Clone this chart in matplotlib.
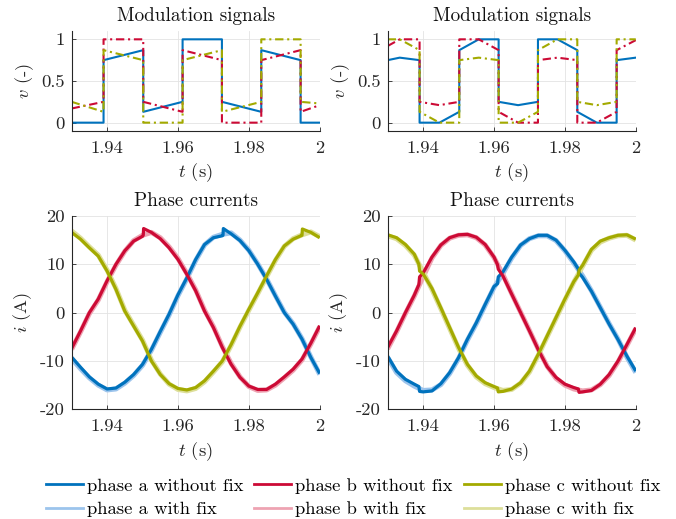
import numpy as np
import matplotlib
matplotlib.use("Agg")
import matplotlib.pyplot as plt
from matplotlib.lines import Line2D

plt.rcParams['font.family'] = 'serif'
plt.rcParams['font.serif'] = ['cmr10']
plt.rcParams['mathtext.fontset'] = 'cm'
plt.rcParams['axes.formatter.use_mathtext'] = True
plt.rcParams['axes.unicode_minus'] = False

# ---------------- colours ----------------
col_a, col_b, col_c = '#0072BD', '#CC0A35', '#A3AA00'
col_a_l, col_b_l, col_c_l = '#9CC4EC', '#EEA3B2', '#DDDF9A'

# ---------------- modulation signals (left) ----------------
mod_t_left = [1.93, 1.9390, 1.9390, 1.9502, 1.9502, 1.9613, 1.9613,
              1.9724, 1.9724, 1.9835, 1.9835, 1.9946, 1.9946, 2.0]
mod_a_left = [0, 0, 0.75, 0.87, 0.13, 0.25, 1.0, 1.0, 0.25, 0.13, 0.87, 0.75, 0, 0]
mod_b_left = [0.17, 0.25, 1.0, 1.0, 0.25, 0.13, 0.87, 0.75, 0, 0, 0.75, 0.87, 0.13, 0.21]
mod_c_left = [0.25, 0.13, 0.87, 0.75, 0, 0, 0.75, 0.87, 0.13, 0.25, 1.0, 1.0, 0.25, 0.23]

# ---------------- modulation signals (right) ----------------
mod_t_right = [1.93, 1.9334, 1.9390, 1.9390, 1.9446, 1.9502, 1.9502, 1.9557, 1.9613, 1.9613,
               1.9668, 1.9724, 1.9724, 1.9779, 1.9835, 1.9835, 1.9890, 1.9946, 1.9946, 2.0]
mod_a_right = [0.75, 0.78, 0.75, 0, 0, 0.13, 0.87, 1.0, 1.0, 0.25,
               0.21, 0.25, 1.0, 1.0, 0.87, 0.13, 0, 0, 0.75, 0.78]
mod_b_right = [0.92, 1.0, 1.0, 0.25, 0.21, 0.25, 1.0, 1.0, 0.87, 0.13,
               0, 0, 0.75, 0.78, 0.75, 0, 0, 0.13, 0.87, 0.99]
mod_c_right = [1.0, 1.0, 0.87, 0.13, 0, 0, 0.75, 0.78, 0.75, 0,
               0, 0.13, 0.87, 1.0, 1.0, 0.25, 0.21, 0.25, 1.0, 1.0]

# ---------------- phase currents: sample times ----------------
t_grid = [1.93, 1.9325, 1.935, 1.9375, 1.94, 1.9425, 1.945, 1.9475, 1.95, 1.9525,
          1.955, 1.9575, 1.96, 1.9625, 1.965, 1.9675, 1.97, 1.9725, 1.975, 1.9775,
          1.98, 1.9825, 1.985, 1.9875, 1.99, 1.9925, 1.995, 1.9975, 2.0]

# left: without fix (with step at the current peak)
ia_left_t = [1.93, 1.9325, 1.935, 1.9375, 1.94, 1.9425, 1.945, 1.9475, 1.95, 1.9525,
             1.955, 1.9575, 1.96, 1.9625, 1.965, 1.9675, 1.97, 1.9725, 1.9727, 1.9728, 1.975, 1.9775,
             1.98, 1.9825, 1.985, 1.9875, 1.99, 1.9925, 1.995, 1.9975, 2.0]
ia_left = [-9.2, -11.3, -13.3, -14.8, -15.8, -15.6, -14.4, -12.8, -10.7, -7.6,
           -3.9, -0.3, 3.7, 7.2, 11.0, 14.1, 15.5, 15.9, 16.0, 17.4, 16.3, 14.9,
           12.8, 10.0, 6.9, 3.4, 0.0, -2.4, -5.5, -9.3, -12.6]
ib_left_t = [1.93, 1.9325, 1.935, 1.9375, 1.94, 1.9425, 1.945, 1.9475, 1.95, 1.9502, 1.9503, 1.9525,
             1.955, 1.9575, 1.96, 1.9625, 1.965, 1.9675, 1.97, 1.9725, 1.975, 1.9775,
             1.98, 1.9825, 1.985, 1.9875, 1.99, 1.9925, 1.995, 1.9975, 2.0]
ib_left = [-7.4, -3.8, 0.0, 2.8, 6.6, 10.0, 12.8, 14.8, 15.8, 16.0, 17.4, 16.6,
           15.3, 13.4, 11.0, 7.9, 4.5, 0.3, -3.1, -7.2, -10.7, -13.4,
           -15.2, -15.9, -15.9, -14.8, -13.3, -11.7, -9.6, -6.3, -2.7]
ic_left_t = [1.93, 1.9325, 1.935, 1.9375, 1.94, 1.9425, 1.945, 1.9475, 1.95, 1.9525,
             1.955, 1.9575, 1.96, 1.9625, 1.965, 1.9675, 1.97, 1.9725, 1.975, 1.9775,
             1.98, 1.9825, 1.985, 1.9875, 1.99, 1.9925, 1.995, 1.9950, 1.9951, 1.9975, 2.0]
ic_left = [16.6, 15.2, 13.4, 11.7, 8.6, 4.8, 0.3, -2.8, -5.9, -10.0,
           -12.8, -14.7, -15.7, -16.0, -15.5, -14.1, -12.1, -10.0, -6.6, -2.8,
           0.7, 4.1, 7.6, 11.0, 13.8, 15.2, 16.0, 16.1, 17.3, 16.6, 15.5]

# left: with fix (sampled on t_grid)
ia_left_fix = [-9.5, -11.6, -13.5, -15.0, -16.0, -15.8, -14.6, -13.0, -10.9, -7.8,
               -4.1, -0.5, 3.5, 7.0, 10.8, 14.0, 15.6, 16.2, 16.5, 15.0,
               12.9, 10.1, 7.0, 3.5, 0.1, -2.3, -5.4, -9.2, -12.8]
ib_left_fix = [-7.6, -4.0, -0.2, 2.6, 6.4, 9.8, 12.7, 14.9, 16.0, 16.6,
               15.5, 13.6, 11.2, 8.1, 4.7, 0.5, -2.9, -7.0, -10.5, -13.3,
               -15.3, -16.1, -16.0, -15.0, -13.5, -11.9, -9.8, -6.5, -2.9]
ic_left_fix = [16.9, 15.4, 13.6, 11.9, 8.8, 5.0, 0.5, -2.6, -5.7, -9.8,
               -12.7, -14.8, -15.9, -16.2, -15.7, -14.3, -12.3, -10.2, -6.8, -3.0,
               0.5, 3.9, 7.4, 10.8, 13.7, 15.3, 16.1, 16.7, 15.7]

# right: without fix (small steps at the sector changes)
ia_right_t = [1.93, 1.9325, 1.935, 1.9375, 1.9388, 1.9390, 1.94, 1.9425, 1.945, 1.9475, 1.95, 1.9525,
              1.955, 1.9575, 1.96, 1.9610, 1.9612, 1.9625, 1.965, 1.9675, 1.97, 1.9725, 1.975, 1.9775,
              1.98, 1.9825, 1.9838, 1.9840, 1.985, 1.9875, 1.99, 1.9925, 1.995, 1.9975, 2.0]
ia_right = [-9.0, -12.1, -13.8, -14.8, -15.3, -16.3, -16.4, -16.2, -14.7, -12.4, -9.3, -5.5,
            -2.1, 1.7, 5.4, 6.0, 7.4, 8.4, 11.5, 14.0, 15.3, 16.0, 16.0, 15.0,
            12.9, 10.5, 9.0, 8.2, 7.3, 4.4, 1.0, -2.4, -5.6, -9.0, -12.1]
ib_right_t = [1.93, 1.9325, 1.935, 1.9375, 1.9388, 1.9390, 1.94, 1.9425, 1.945, 1.9475, 1.95, 1.9525,
              1.955, 1.9575, 1.96, 1.9610, 1.9612, 1.9625, 1.965, 1.9675, 1.97, 1.9725, 1.975, 1.9775,
              1.98, 1.9825, 1.9838, 1.9840, 1.985, 1.9875, 1.99, 1.9925, 1.995, 1.9975, 2.0]
ib_right = [-7.2, -3.8, 0.0, 3.6, 5.8, 7.4, 8.2, 11.5, 14.0, 15.5, 16.1, 16.2,
            15.6, 14.1, 11.5, 9.9, 9.0, 7.6, 3.8, 0.0, -3.8, -7.7, -11.2, -13.4,
            -14.8, -15.5, -15.8, -16.5, -16.4, -16.1, -14.8, -12.8, -10.0, -6.6, -3.1]
ic_right_t = [1.93, 1.9325, 1.935, 1.9375, 1.9388, 1.9390, 1.94, 1.9425, 1.945, 1.9475, 1.95, 1.9525,
              1.955, 1.9575, 1.96, 1.9610, 1.9612, 1.9625, 1.965, 1.9675, 1.97, 1.9725, 1.975, 1.9775,
              1.98, 1.9825, 1.9838, 1.9840, 1.985, 1.9875, 1.99, 1.9925, 1.995, 1.9975, 2.0]
ic_right = [16.1, 15.5, 14.1, 12.1, 10.0, 8.6, 8.0, 5.0, 1.0, -3.1, -7.2, -10.7,
            -13.1, -14.5, -15.3, -15.6, -16.4, -16.3, -15.8, -14.5, -12.1, -8.6, -4.8, -1.0,
            2.8, 6.4, 7.8, 8.8, 9.8, 13.1, 14.8, 15.5, 16.0, 16.1, 15.2]

# right: with fix (sampled on t_grid)
ia_right_fix = [-9.3, -12.4, -14.1, -15.2, -16.1, -16.0, -14.9, -12.6, -9.5, -5.7,
                -2.3, 1.5, 5.2, 8.1, 11.3, 13.9, 15.3, 15.9, 15.9, 14.9,
                12.8, 10.3, 7.6, 4.5, 1.1, -2.3, -5.5, -9.2, -12.4]
ib_right_fix = [-7.5, -4.0, -0.2, 3.4, 7.4, 11.3, 13.9, 15.4, 16.0, 16.1,
                15.5, 14.0, 11.4, 7.9, 3.9, 0.1, -3.7, -7.6, -11.1, -13.6,
                -15.0, -15.8, -16.2, -16.0, -14.9, -13.0, -10.2, -6.8, -3.3]
ic_right_fix = [15.9, 15.3, 13.9, 11.9, 8.4, 4.8, 0.8, -3.3, -7.4, -10.9,
                -13.3, -14.7, -15.5, -16.1, -15.9, -14.6, -12.3, -8.8, -5.0, -1.2,
                2.6, 6.3, 9.6, 12.9, 14.6, 15.4, 15.9, 16.0, 15.0]

# ---------------- labels ----------------
x_ticks = [1.94, 1.96, 1.98, 2.0]
x_ticklabels = ['1.94', '1.96', '1.98', '2']
v_ticks = [0, 0.5, 1]
v_ticklabels = ['0', '0.5', '1']
i_ticks = [-20, -10, 0, 10, 20]
i_ticklabels = ['-20', '-10', '0', '10', '20']
legend_labels = ['phase a without fix', 'phase a with fix',
                 'phase b without fix', 'phase b with fix',
                 'phase c without fix', 'phase c with fix']

FS = 13.4
dark = '#262626'

fig = plt.figure(figsize=(6.76, 5.19), dpi=100)
ax_tl = fig.add_axes([0.106, 0.7476, 0.367, 0.1927])
ax_tr = fig.add_axes([0.5735, 0.7476, 0.367, 0.1927])
ax_bl = fig.add_axes([0.106, 0.2114, 0.367, 0.3725])
ax_br = fig.add_axes([0.5735, 0.2114, 0.367, 0.3725])

def style(ax, yticks, yticklabels, ylim, ylabel, title):
    ax.set_xlim(1.93, 2.0)
    ax.set_ylim(*ylim)
    ax.set_xticks(x_ticks)
    ax.set_xticklabels(x_ticklabels)
    ax.set_yticks(yticks)
    ax.set_yticklabels(yticklabels)
    ax.grid(True, color='#E3E3E3', lw=0.6)
    ax.set_axisbelow(True)
    for s in ['top', 'right']:
        ax.spines[s].set_visible(False)
    for s in ['left', 'bottom']:
        ax.spines[s].set_color(dark)
        ax.spines[s].set_linewidth(0.8)
    ax.tick_params(direction='in', length=3, width=0.6, colors=dark,
                   labelsize=FS, labelcolor=dark)
    ax.tick_params(axis='x', pad=7)
    ax.tick_params(axis='y', pad=5)
    ax.set_xlabel('$t$ (s)', fontsize=FS, color=dark, labelpad=4)
    ax.set_ylabel(ylabel, fontsize=FS, color=dark, labelpad=4)
    ax.set_title(title, fontsize=FS + 0.4, color='#111111', pad=7.5)

dd = (0, (4, 1.8, 1, 1.8))
for ax, tt, a, b, c in [(ax_tl, mod_t_left, mod_a_left, mod_b_left, mod_c_left),
                        (ax_tr, mod_t_right, mod_a_right, mod_b_right, mod_c_right)]:
    ax.plot(tt, a, color=col_a, lw=1.5)
    ax.plot(tt, b, color=col_b, lw=1.5, linestyle=dd)
    ax.plot(tt, c, color=col_c, lw=1.5, linestyle=dd)
    style(ax, v_ticks, v_ticklabels, (-0.1, 1.1), '$v$ (-)', 'Modulation signals')

for ax, data, fix in [
        (ax_bl, [(ia_left_t, ia_left), (ib_left_t, ib_left), (ic_left_t, ic_left)],
         [ia_left_fix, ib_left_fix, ic_left_fix]),
        (ax_br, [(ia_right_t, ia_right), (ib_right_t, ib_right), (ic_right_t, ic_right)],
         [ia_right_fix, ib_right_fix, ic_right_fix])]:
    for f, cl in zip(fix, [col_a_l, col_b_l, col_c_l]):
        ax.plot(t_grid, f, color=cl, lw=3.6, solid_capstyle='butt')
    for (tt, v), cd in zip(data, [col_a, col_b, col_c]):
        ax.plot(tt, v, color=cd, lw=2.3, solid_capstyle='butt')
    style(ax, i_ticks, i_ticklabels, (-20, 20), '$i$ (A)', 'Phase currents')

handles = [Line2D([], [], color=col_a, lw=2.0), Line2D([], [], color=col_a_l, lw=2.0),
           Line2D([], [], color=col_b, lw=2.0), Line2D([], [], color=col_b_l, lw=2.0),
           Line2D([], [], color=col_c, lw=2.0), Line2D([], [], color=col_c_l, lw=2.0)]
fig.legend(handles, legend_labels, ncol=3, loc='center', bbox_to_anchor=(0.522, 0.0414),
           frameon=False, fontsize=FS, handlelength=2.0, handletextpad=0.2,
           columnspacing=0.6, labelspacing=0.38, borderpad=0.0)

fig.savefig('out.png', dpi=100)
